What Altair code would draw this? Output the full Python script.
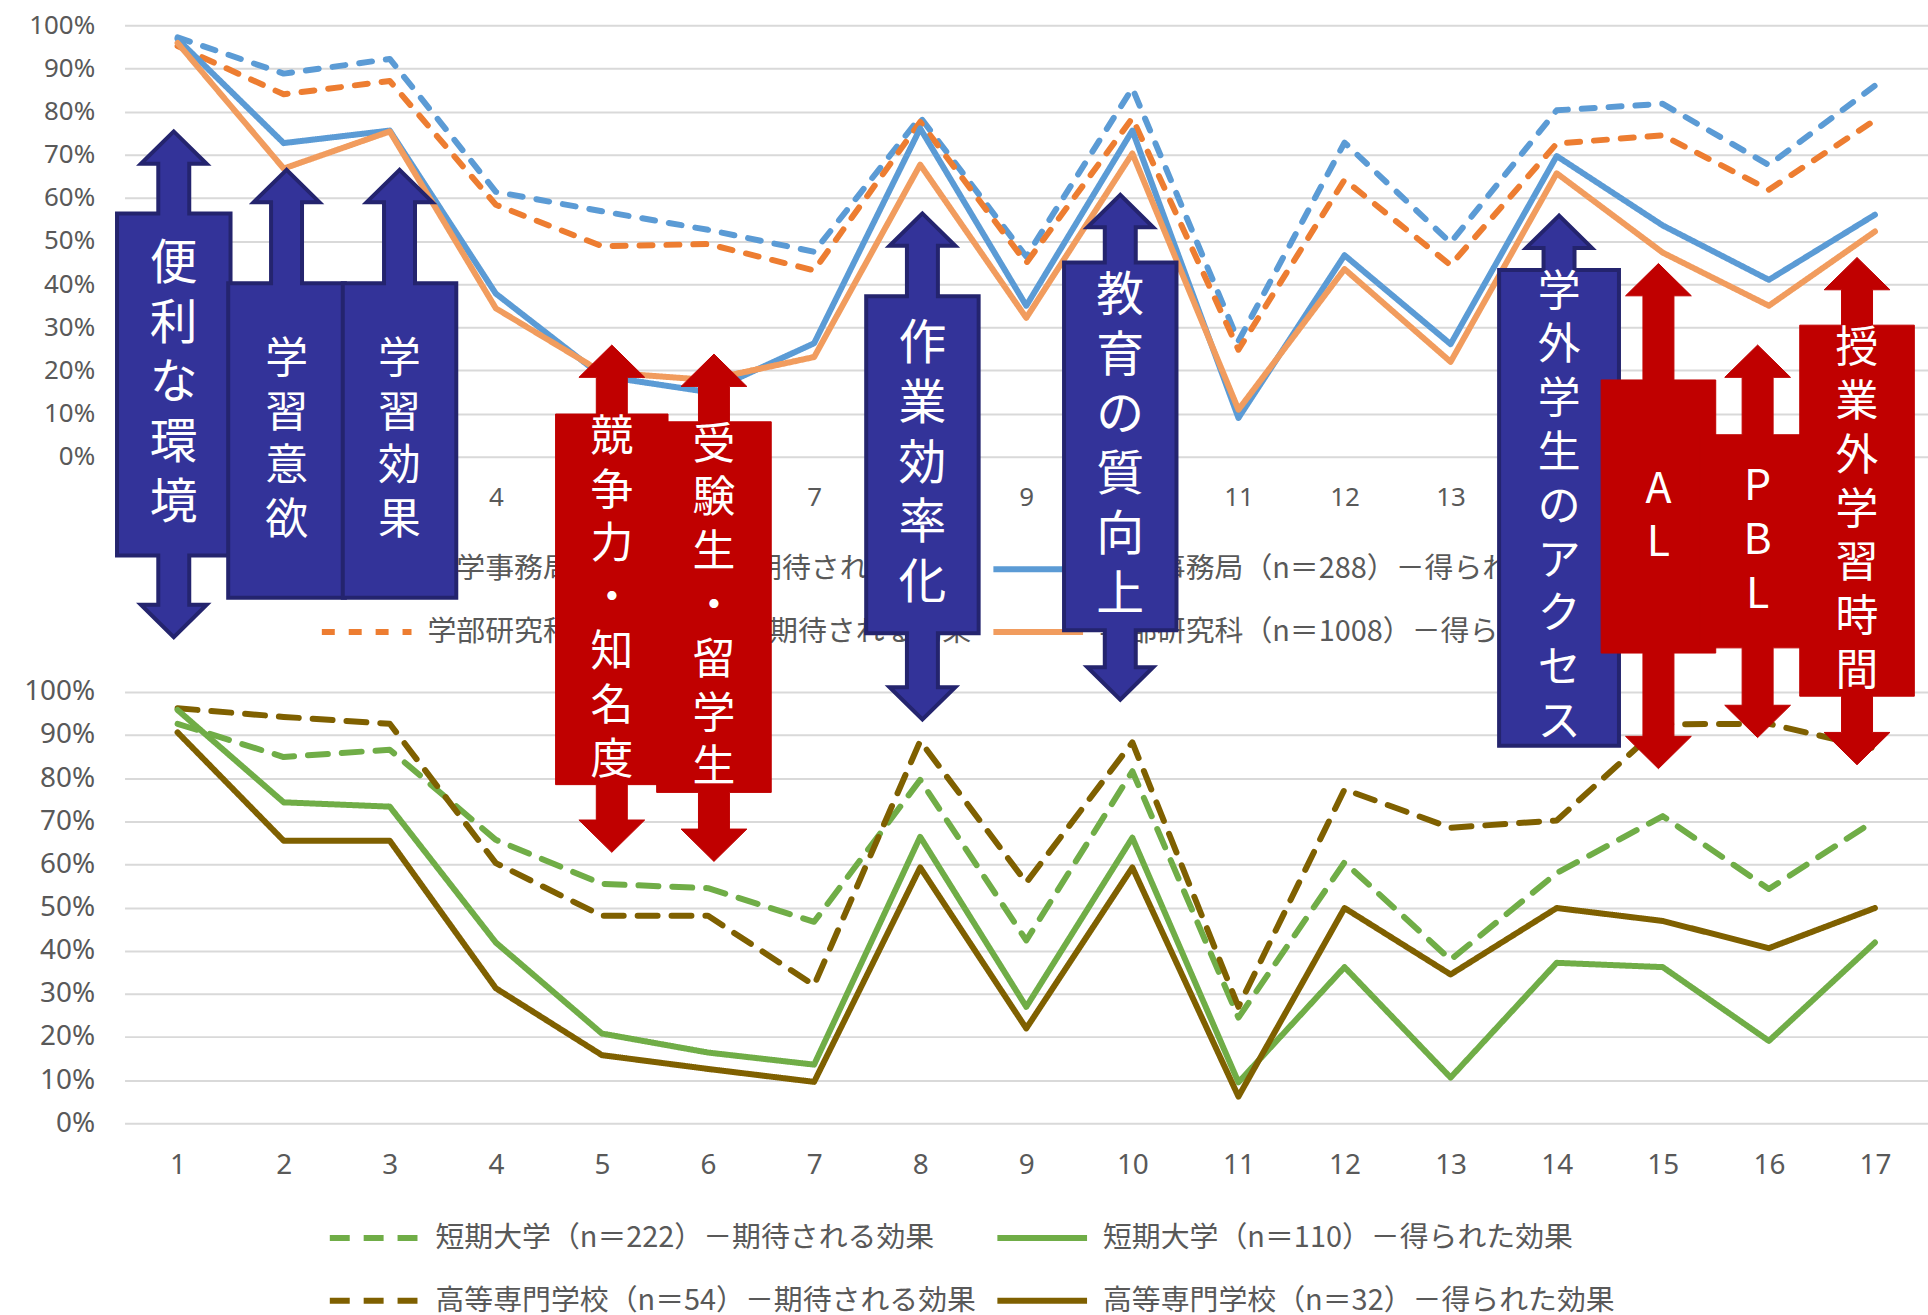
import altair as alt
import pandas as pd

# ---------------- data ----------------
cats = list(range(1, 18))

top_names = [
    "大学事務局（n＝552）－期待される効果",
    "学部研究科（n＝2230）－期待される効果",
    "大学事務局（n＝288）－得られた効果",
    "学部研究科（n＝1008）－得られた効果",
]
univ_exp = [0.972, 0.888, 0.922, 0.614, 0.569, 0.526, 0.475, 0.787, 0.464, 0.854, 0.268, 0.728, 0.496, 0.803, 0.818, 0.676, 0.860]
fac_exp = [0.952, 0.840, 0.871, 0.584, 0.488, 0.493, 0.432, 0.776, 0.449, 0.785, 0.248, 0.642, 0.444, 0.726, 0.745, 0.619, 0.780]
univ_got = [0.968, 0.727, 0.756, 0.378, 0.187, 0.150, 0.263, 0.761, 0.350, 0.756, 0.090, 0.467, 0.261, 0.697, 0.536, 0.410, 0.561]
fac_got = [0.959, 0.668, 0.754, 0.344, 0.196, 0.178, 0.231, 0.677, 0.322, 0.703, 0.109, 0.435, 0.220, 0.657, 0.473, 0.350, 0.522]

bottom_names = [
    "短期大学（n＝222）－期待される効果",
    "高等専門学校（n＝54）－期待される効果",
    "短期大学（n＝110）－得られた効果",
    "高等専門学校（n＝32）－得られた効果",
]
jc_exp = [0.926, 0.849, 0.866, 0.657, 0.555, 0.545, 0.467, 0.796, 0.424, 0.816, 0.245, 0.605, 0.379, 0.580, 0.712, 0.543, 0.702]
tc_exp = [0.962, 0.942, 0.926, 0.603, 0.481, 0.481, 0.320, 0.886, 0.558, 0.883, 0.270, 0.774, 0.685, 0.702, 0.925, 0.926, 0.869]
jc_got = [0.958, 0.744, 0.734, 0.419, 0.208, 0.164, 0.136, 0.664, 0.270, 0.662, 0.095, 0.362, 0.106, 0.372, 0.362, 0.191, 0.419]
tc_got = [0.906, 0.655, 0.655, 0.313, 0.158, 0.126, 0.096, 0.593, 0.220, 0.593, 0.062, 0.499, 0.345, 0.499, 0.469, 0.406, 0.499]

# annotation arrows (x in category units, y in units of the lower panel's value axis)
arrow_labels = ["便利な環境", "学習意欲", "学習効果", "競争力・知名度", "受験生・留学生",
                "作業効率化", "教育の質向上", "学外学生のアクセス", "AL", "PBL", "授業外学習時間"]
arrow_kind = ["blue", "blue", "blue", "red", "red", "blue", "blue", "blue", "red", "red", "red"]
arrow_center = [0.964, 2.027, 3.092, 5.093, 6.056, 8.021, 9.886, 14.022, 14.959, 15.894, 16.831]
arrow_top = [2.299, 2.210, 2.210, 1.804, 1.783, 2.109, 2.152, 2.104, 1.993, 1.804, 2.007]
box_top = [2.109, 1.947, 1.947, 1.644, 1.626, 1.917, 1.995, 1.978, 1.723, 1.596, 1.850]
box_bottom = [1.316, 1.218, 1.218, 0.785, 0.767, 1.136, 1.143, 0.875, 1.090, 1.102, 0.990]
arrow_bottom = [1.127, None, None, 0.628, 0.607, 0.936, 0.982, None, 0.822, 0.894, 0.831]
box_half = [0.535, 0.55, 0.535, 0.53, 0.54, 0.53, 0.53, 0.565, 0.54, 0.54, 0.54]
big_text = ["便利な環境", "作業効率化", "教育の質向上"]

HEAD = 0.075
HEAD_HALF = 0.31
SHAFT_HALF = 0.146

# ---------------- layout constants ----------------
W, H = 1810, 433
BIG_FS, BIG_LH = 48, 60
SMALL_FS, SMALL_LH = 43, 54

# ---------------- frames ----------------
def long_frame(names, series):
    rows = []
    for name, vals in zip(names, series):
        for c, v in zip(cats, vals):
            rows.append({"cat": c, "val": v, "series": name})
    return pd.DataFrame(rows)

top_df = long_frame(top_names, [univ_exp, fac_exp, univ_got, fac_got])
bot_df = long_frame(bottom_names, [jc_exp, tc_exp, jc_got, tc_got])

poly_rows = []
text_rows = []
for i, lab in enumerate(arrow_labels):
    c = arrow_center[i]
    bw = box_half[i]
    at, bt, bb, ab = arrow_top[i], box_top[i], box_bottom[i], arrow_bottom[i]
    left = [(at, c), (at - HEAD, c - HEAD_HALF), (at - HEAD, c - SHAFT_HALF),
            (bt, c - SHAFT_HALF), (bt, c - bw), (bb, c - bw)]
    if ab is not None:
        left += [(bb, c - SHAFT_HALF), (ab + HEAD, c - SHAFT_HALF),
                 (ab + HEAD, c - HEAD_HALF), (ab, c)]
    right = [(yy, 2 * c - xx) for (yy, xx) in reversed(left)]
    pts = left + [p for p in right if not (abs(p[1] - c) < 1e-9)]
    for s, (yy, xx) in enumerate(pts):
        poly_rows.append({"id": f"a{i:02d}", "kind": arrow_kind[i], "seq": s,
                          "val": yy, "cat": xx})
    big = lab in big_text
    lh = BIG_LH if big else SMALL_LH
    n = len(lab)
    # first line placed so that the whole column of characters is centred in the box
    text_rows.append({"cat": c, "val": (bt + bb) / 2 + (n - 1) / 2 * lh / H,
                      "label": "\n".join(list(lab)), "big": big})
poly_df = pd.DataFrame(poly_rows)
text_df = pd.DataFrame(text_rows)

# ---------------- encodings ----------------
grid_vals = [round(i * 0.1, 1) for i in range(11)]
LABEL_COLOR = "#595959"


def x_enc(font, size):
    return alt.X("cat:Q", scale=alt.Scale(domain=[0.5, 17.5], nice=False, zero=False),
                 axis=alt.Axis(values=cats, format="d", grid=False, ticks=False, domain=False,
                               labelFont=font, labelFontSize=size, labelColor=LABEL_COLOR,
                               labelPadding=28, title=None))


def y_enc(font, size):
    return alt.Y("val:Q", scale=alt.Scale(domain=[0, 1], nice=False, zero=False),
                 axis=alt.Axis(values=grid_vals, format=".0%", grid=True, gridColor="#D9D9D9",
                               gridWidth=2, ticks=False, domain=False, labelFont=font,
                               labelFontSize=size, labelColor=LABEL_COLOR, labelPadding=30,
                               title=None))


def legend_def(lx, ly, cp):
    return alt.Legend(orient="none", legendX=lx, legendY=ly, columns=2, title=None,
                      symbolType="stroke", symbolSize=8100, symbolStrokeWidth=6,
                      labelFont="Noto Sans CJK JP", labelFontSize=29, labelColor=LABEL_COLOR,
                      labelOffset=13, labelLimit=2000, rowPadding=-2, columnPadding=cp,
                      padding=0)


def panel(df, names, colors, dashes, font, size, lx, ly, cp):
    leg = legend_def(lx, ly, cp)
    return alt.Chart(df).mark_line(strokeWidth=6, strokeCap="round", strokeJoin="round").encode(
        x=x_enc(font, size),
        y=y_enc(font, size),
        color=alt.Color("series:N", scale=alt.Scale(domain=names, range=colors), legend=leg),
        strokeDash=alt.StrokeDash("series:N", scale=alt.Scale(domain=names, range=dashes), legend=leg),
    )


top = panel(top_df, top_names,
            ["#5B9BD5", "#ED7D31", "#5B9BD5", "#F19C5E"],
            [[13, 14], [13, 14], [1, 0], [1, 0]],
            "Noto Sans", 26, 195, 498, 9).properties(width=W, height=H)

bottom_lines = panel(bot_df, bottom_names,
                     ["#70AD47", "#7F6000", "#70AD47", "#7F6000"],
                     [[20, 14], [20, 14], [1, 0], [1, 0]],
                     "Noto Sans", 28, 203, 500, 9)

bx = x_enc("Noto Sans", 28)
by = y_enc("Noto Sans", 28)

blue_arrows = alt.Chart(poly_df).transform_filter(alt.datum.kind == "blue").mark_line(
    interpolate="linear-closed", fill="#333399", stroke="#24246E", strokeWidth=4,
    strokeJoin="miter", opacity=1).encode(x=bx, y=by, detail="id:N", order="seq:Q")

red_arrows = alt.Chart(poly_df).transform_filter(alt.datum.kind == "red").mark_line(
    interpolate="linear-closed", fill="#C00000", stroke="#C00000", strokeWidth=1,
    strokeJoin="miter", opacity=1).encode(x=bx, y=by, detail="id:N", order="seq:Q")

text_big = alt.Chart(text_df).transform_filter(alt.datum.big).mark_text(
    color="white", font="Noto Sans CJK JP", fontSize=BIG_FS, lineHeight=BIG_LH, lineBreak="\n",
    align="center", baseline="middle").encode(x=bx, y=by, text="label:N")

text_small = alt.Chart(text_df).transform_filter(~alt.datum.big).mark_text(
    color="white", font="Noto Sans CJK JP", fontSize=SMALL_FS, lineHeight=SMALL_LH, lineBreak="\n",
    align="center", baseline="middle").encode(x=bx, y=by, text="label:N")

bottom = alt.layer(bottom_lines, blue_arrows, red_arrows, text_big, text_small).properties(
    width=W, height=H)

chart = alt.vconcat(top, bottom, spacing=236, bounds="flush").resolve_scale(
    color="independent", strokeDash="independent"
).resolve_legend(
    color="independent", strokeDash="independent"
).properties(
    padding={"left": 23, "top": 10, "right": 0, "bottom": 0},
    background="white",
).configure_view(strokeWidth=0)

chart.save("out.html", embed_options={"renderer": "svg", "actions": False})
